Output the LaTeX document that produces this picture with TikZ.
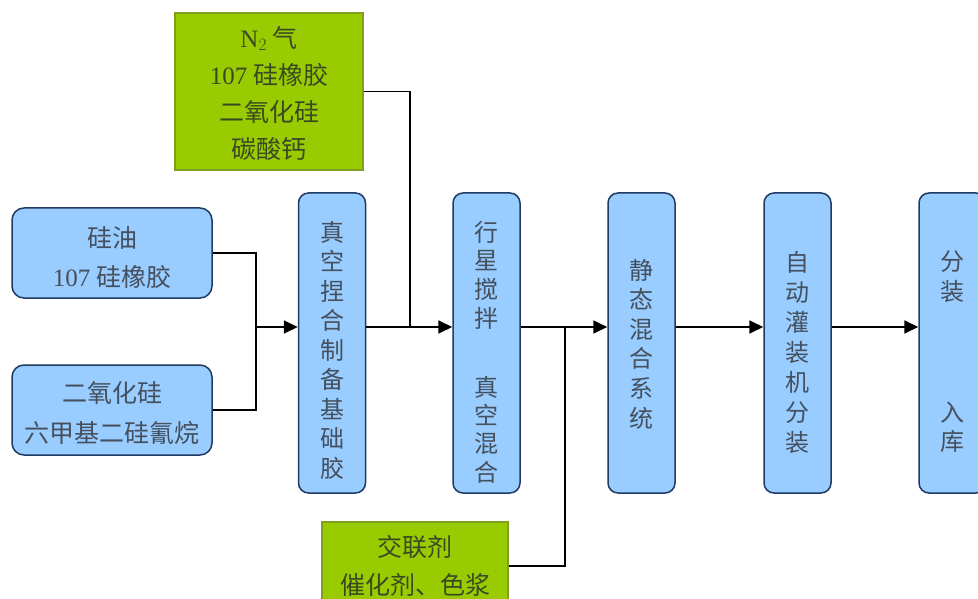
\documentclass[tikz,border=0pt]{standalone}
\usepackage{fontspec}
\setmainfont{Liberation Serif}
\newfontfamily\cjk{Noto Sans CJK SC}
\usetikzlibrary{arrows.meta}
\definecolor{bluef}{HTML}{99CCFF}
\definecolor{bord}{HTML}{1F3B63}
\definecolor{greenf}{HTML}{99CC00}
\definecolor{gbord}{HTML}{7F9F1F}
\definecolor{txtc}{HTML}{45505E}
\definecolor{gtxt}{HTML}{3A4A22}
\tikzset{
  proc/.style={draw=bord, fill=bluef, rounded corners=10pt, line width=1.5pt,
    minimum width=67pt, minimum height=300pt, inner sep=0pt},
  inbox/.style={draw=bord, fill=bluef, rounded corners=12pt, line width=1.5pt,
    minimum width=200pt, minimum height=90pt, inner sep=0pt},
  gbox/.style={draw=gbord, fill=greenf, line width=1.2pt, inner sep=0pt},
  txt/.style={text=txtc, align=center, inner sep=0pt},
  gtx/.style={text=gtxt, align=center, inner sep=0pt},
  conn/.style={line width=1.8pt, draw=black},
  arr/.style={conn, -{Triangle[length=14pt,width=13pt]}},
}
\begin{document}
\begin{tikzpicture}[x=1pt,y=-1pt]
\useasboundingbox (0,0) rectangle (978,599);
\clip (0,0) rectangle (978,599);
\fill[white] (0,0) rectangle (978,599);

% input boxes
\node[inbox] (in1) at (112,253) {};
\node[txt, font={\cjk\fontsize{25}{39}\selectfont}] (tin1) at (112,257.5) {硅油\\{\rmfamily 107} 硅橡胶};
\node[inbox] (in2) at (112,410) {};
\node[txt, font={\cjk\fontsize{25}{40}\selectfont}] (tin2) at (112,413) {二氧化硅\\六甲基二硅氰烷};

% green boxes
\node[gbox, minimum width=188pt, minimum height=157pt] (gtop) at (269,91.5) {};
\node[gtx, font={\cjk\fontsize{25}{37}\selectfont}] (tgtop) at (269,93) {{\rmfamily N$_2$} 气\\{\rmfamily 107} 硅橡胶\\二氧化硅\\碳酸钙};
\node[gbox, minimum width=186pt, minimum height=88pt] (gbot) at (415,566) {};
\node[gtx, font={\cjk\fontsize{25}{38}\selectfont}] (tgbot) at (415,566) {交联剂\\催化剂、色浆};

% process boxes
\node[proc] (p3) at (332,343) {};
\node[txt, font={\cjk\fontsize{24}{29.5}\selectfont}] (t3) at (332,350) {真\\空\\捏\\合\\制\\备\\基\\础\\胶};
\node[proc] (p4) at (486.5,343) {};
\node[txt, font={\cjk\fontsize{24}{28.7}\selectfont}] (t4a) at (486.5,275) {行\\星\\搅\\拌};
\node[txt, font={\cjk\fontsize{24}{28.3}\selectfont}] (t4b) at (486.5,429.5) {真\\空\\混\\合};
\node[proc] (p5) at (641.5,343) {};
\node[txt, font={\cjk\fontsize{24}{29.6}\selectfont}] (t5) at (641.5,344) {静\\态\\混\\合\\系\\统};
\node[proc] (p6) at (797.5,343) {};
\node[txt, font={\cjk\fontsize{24}{30}\selectfont}] (t6) at (797.5,352) {自\\动\\灌\\装\\机\\分\\装};
\node[proc] (p7) at (952.5,343) {};
\node[txt, font={\cjk\fontsize{24}{30}\selectfont}] (t7a) at (952.5,277) {分\\装};
\node[txt, font={\cjk\fontsize{24}{29}\selectfont}] (t7b) at (952.5,427.5) {入\\库};

% junctions
\coordinate (j1) at (256,327);
\coordinate (j2) at (410,327);
\coordinate (j3) at (565,327);

% connectors
\draw[conn] (in1.east) -| (j1);
\draw[conn] (in2.east) -| (j1);
\draw[arr] (j1) -- (p3.west |- j1);
\draw[conn] (gtop.east) -| (j2);
\draw[arr] (p3.east |- j2) -- (p4.west |- j2);
\draw[conn] (gbot.east) -| (j3);
\draw[arr] (p4.east |- j3) -- (p5.west |- j3);
\draw[arr] (p5.east |- j3) -- (p6.west |- j3);
\draw[arr] (p6.east |- j3) -- (p7.west |- j3);
\end{tikzpicture}
\end{document}
